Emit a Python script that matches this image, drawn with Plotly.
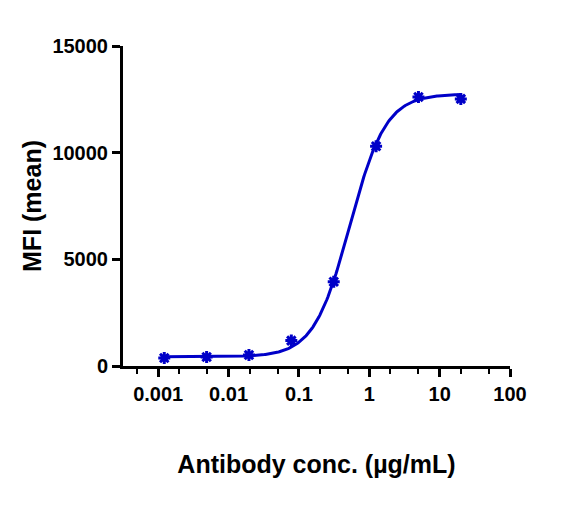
import numpy as np
import plotly.graph_objects as go

# measured points
conc = [0.00122, 0.00488, 0.0195, 0.078, 0.3125, 1.25, 5, 20]
mfi = [375, 420, 515, 1190, 3950, 10300, 12610, 12520]

# 4PL fit parameters (bottom, top, EC50, hill)
bottom = 430
top = 12750
ec50 = 0.53
hill = 1.7

x_ticks = [0.001, 0.01, 0.1, 1, 10, 100]
x_labels = ["0.001", "0.01", "0.1", "1", "10", "100"]
y_ticks = [0, 5000, 10000, 15000]
y_labels = ["0", "5000", "10000", "15000"]

blue = "#0000C8"
font_name = "Liberation Sans"

xfit = np.logspace(np.log10(conc[0]), np.log10(conc[-1]), 300)
yfit = bottom + (top - bottom) / (1 + (ec50 / xfit) ** hill)

fig = go.Figure()

fig.add_trace(go.Scatter(
    x=xfit, y=yfit,
    mode='lines',
    line=dict(color=blue, width=3),
    hoverinfo='skip',
    showlegend=False
))

fig.add_trace(go.Scatter(
    x=conc, y=mfi,
    mode='markers',
    marker=dict(symbol='asterisk-open', size=10, color=blue,
                line=dict(color=blue, width=3)),
    showlegend=False
))

fig.update_xaxes(
    type='log',
    range=[-3.5, 2],
    tickvals=x_ticks,
    ticktext=x_labels,
    ticks='outside', ticklen=8, tickwidth=3, tickcolor='black',
    minor=dict(ticks='outside', ticklen=5, tickwidth=2, tickcolor='black', showgrid=False),
    showline=True, linewidth=3, linecolor='black',
    showgrid=False, zeroline=False,
    tickfont=dict(family=font_name, size=20, color='black', weight='bold'),
    title=dict(text="Antibody conc. (µg/mL)", standoff=52,
               font=dict(family=font_name, size=25, color='black', weight='bold')),
    automargin=False
)

fig.update_yaxes(
    range=[0, 15000],
    tickvals=y_ticks,
    ticktext=y_labels,
    ticks='outside', ticklen=8, tickwidth=3, tickcolor='black',
    showline=True, linewidth=3, linecolor='black',
    showgrid=False, zeroline=False,
    tickfont=dict(family=font_name, size=20, color='black', weight='bold'),
    title=dict(text="MFI (mean)", standoff=4,
               font=dict(family=font_name, size=25, color='black', weight='bold')),
    automargin=False
)

# page body adds 8px offset, so the figure is sized to fit the window
fig.update_layout(
    width=569, height=498,
    margin=dict(l=115, r=67, t=38, b=140),
    plot_bgcolor='white',
    paper_bgcolor='white'
)

fig.write_html("out.html")
